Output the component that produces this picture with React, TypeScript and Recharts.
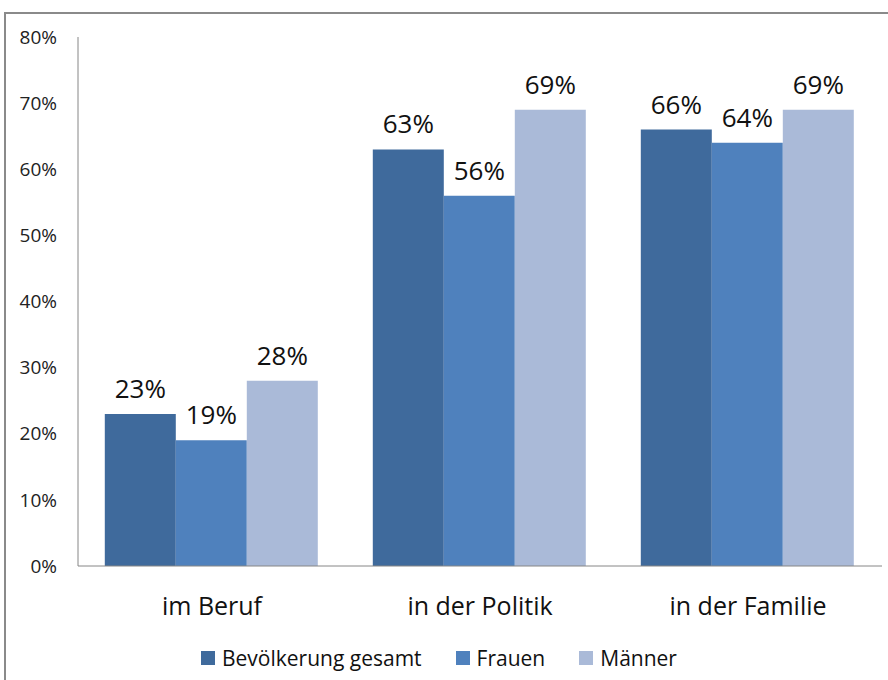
import { Bar, BarChart, LabelList, Legend, XAxis, YAxis } from "recharts";

const categories = ["im Beruf", "in der Politik", "in der Familie"];
const gesamt = [23, 63, 66];
const frauen = [19, 56, 64];
const maenner = [28, 69, 69];
const yTicks = [0, 10, 20, 30, 40, 50, 60, 70, 80];

const seriesNames = ["Bevölkerung gesamt", "Frauen", "Männer"];
const seriesColors = ["#3F6A9C", "#4F81BD", "#AABAD8"];

const data = categories.map((name, i) => ({
    name,
    gesamt: gesamt[i],
    frauen: frauen[i],
    maenner: maenner[i],
}));

const FONT = "'Open Sans', 'Noto Sans', sans-serif";

const LegendBox = (props: any) => {
    const items = props.payload || [];
    return (
        <div style={{ display: "flex", alignItems: "center", fontFamily: FONT, fontSize: 21, color: "#111" }}>
            {items.map((item: any) => (
                <div key={item.value} style={{ display: "flex", alignItems: "center", marginRight: 34 }}>
                    <span style={{ width: 14, height: 14, background: item.color, marginRight: 7, display: "inline-block" }} />
                    <span>{item.value}</span>
                </div>
            ))}
        </div>
    );
};

const App = () => {
    return (
        <div style={{ position: "fixed", left: 0, top: 0, width: 888, height: 680, overflow: "hidden", background: "#fff" }}>
            <div
                style={{
                    position: "absolute",
                    left: 4,
                    top: 12,
                    width: 920,
                    height: 720,
                    border: "2px solid #8a8a8a",
                }}
            />
            <div style={{ position: "absolute", left: 0, top: 0 }}>
                <BarChart
                    width={888}
                    height={680}
                    data={data}
                    margin={{ top: 37, right: 6, bottom: 84, left: 0 }}
                    barCategoryGap="10%"
                    barGap={0}
                >
                    <XAxis
                        dataKey="name"
                        height={30}
                        axisLine={{ stroke: "#868686" }}
                        tickLine={false}
                        tickSize={0}
                        tickMargin={31}
                        tick={{ fill: "#111", fontSize: 25, fontFamily: FONT }}
                    />
                    <YAxis
                        width={78}
                        domain={[0, 80]}
                        ticks={yTicks}
                        interval={0}
                        tickFormatter={(v: number) => `${v}%`}
                        axisLine={{ stroke: "#868686" }}
                        tickLine={false}
                        tickSize={0}
                        tickMargin={21}
                        tick={{ fill: "#222", fontSize: 19, fontFamily: FONT }}
                    />
                    <Legend
                        layout="horizontal"
                        verticalAlign="middle"
                        align="center"
                        content={<LegendBox />}
                        wrapperStyle={{ left: 201, top: 644, width: 680, height: 26 }}
                    />
                    <Bar dataKey="gesamt" name={seriesNames[0]} fill={seriesColors[0]} isAnimationActive={false}>
                        <LabelList dataKey="gesamt" position="top" offset={16} formatter={(v: any) => `${v}%`} style={{ fill: "#111", fontSize: 26, fontFamily: FONT }} />
                    </Bar>
                    <Bar dataKey="frauen" name={seriesNames[1]} fill={seriesColors[1]} isAnimationActive={false}>
                        <LabelList dataKey="frauen" position="top" offset={16} formatter={(v: any) => `${v}%`} style={{ fill: "#111", fontSize: 26, fontFamily: FONT }} />
                    </Bar>
                    <Bar dataKey="maenner" name={seriesNames[2]} fill={seriesColors[2]} isAnimationActive={false}>
                        <LabelList dataKey="maenner" position="top" offset={16} formatter={(v: any) => `${v}%`} style={{ fill: "#111", fontSize: 26, fontFamily: FONT }} />
                    </Bar>
                </BarChart>
            </div>
        </div>
    );
};

export default App;
